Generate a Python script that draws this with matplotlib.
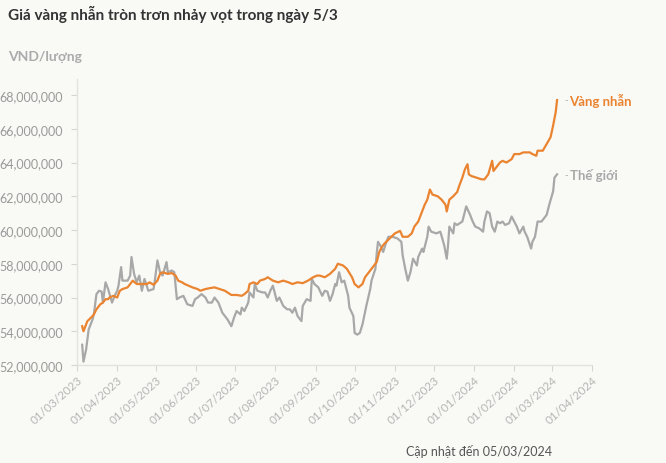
import matplotlib
matplotlib.use("Agg")
import matplotlib.pyplot as plt
import matplotlib.dates as mdates
from matplotlib.ticker import FuncFormatter
import pandas as pd

plt.rcParams['font.family'] = ['Lato', 'DejaVu Sans']

# Vang nhan (million VND / luong)
ring_dates = ["2023-03-05", "2023-03-06", "2023-03-09", "2023-03-13", "2023-03-14", "2023-03-16",
              "2023-03-19", "2023-03-21", "2023-03-23", "2023-03-25", "2023-03-26", "2023-03-29",
              "2023-04-01", "2023-04-03", "2023-04-05", "2023-04-09", "2023-04-12", "2023-04-13",
              "2023-04-16", "2023-04-20", "2023-04-24", "2023-04-26", "2023-04-29", "2023-05-02",
              "2023-05-04", "2023-05-06", "2023-05-10", "2023-05-13", "2023-05-16", "2023-05-18",
              "2023-05-21", "2023-05-23", "2023-05-26", "2023-05-29", "2023-06-02", "2023-06-04",
              "2023-06-08", "2023-06-11", "2023-06-15", "2023-06-19", "2023-06-23", "2023-06-25",
              "2023-06-28", "2023-07-02", "2023-07-06", "2023-07-08", "2023-07-11", "2023-07-12",
              "2023-07-15", "2023-07-18", "2023-07-20", "2023-07-24", "2023-07-26", "2023-07-30",
              "2023-08-03", "2023-08-07", "2023-08-11", "2023-08-14", "2023-08-18", "2023-08-22",
              "2023-08-26", "2023-08-30", "2023-09-02", "2023-09-04", "2023-09-08", "2023-09-12",
              "2023-09-16", "2023-09-18", "2023-09-22", "2023-09-25", "2023-09-29", "2023-10-01",
              "2023-10-04", "2023-10-07", "2023-10-09", "2023-10-13", "2023-10-15", "2023-10-18",
              "2023-10-20", "2023-10-22", "2023-10-24", "2023-10-28", "2023-11-01", "2023-11-05",
              "2023-11-07", "2023-11-11", "2023-11-14", "2023-11-16", "2023-11-19", "2023-11-22",
              "2023-11-24", "2023-11-26", "2023-11-28", "2023-11-30", "2023-12-04", "2023-12-07",
              "2023-12-10", "2023-12-11", "2023-12-13", "2023-12-16", "2023-12-19", "2023-12-21",
              "2023-12-23", "2023-12-25", "2023-12-27", "2023-12-28", "2023-12-30", "2024-01-03",
              "2024-01-07", "2024-01-09", "2024-01-12", "2024-01-15", "2024-01-16", "2024-01-19",
              "2024-01-21", "2024-01-23", "2024-01-26", "2024-01-30", "2024-02-01", "2024-02-05",
              "2024-02-08", "2024-02-13", "2024-02-15", "2024-02-18", "2024-02-19", "2024-02-23",
              "2024-02-26", "2024-02-29", "2024-03-02", "2024-03-04", "2024-03-05"]
ring_vals = [54.3, 54.0, 54.6, 54.9, 55.0, 55.3,
             55.6, 55.7, 55.9, 55.9, 56.0, 56.1,
             56.0, 56.4, 56.5, 56.6, 56.9, 57.0,
             56.8, 56.8, 56.8, 56.9, 56.75, 57.0,
             57.4, 57.5, 57.4, 57.45, 57.3, 57.0,
             56.9, 56.8, 56.7, 56.6, 56.5, 56.4,
             56.5, 56.55, 56.6, 56.5, 56.4, 56.3,
             56.15, 56.15, 56.1, 56.2, 56.4, 56.8,
             56.9, 56.8, 57.0, 57.1, 57.2, 57.0,
             56.9, 57.0, 56.9, 56.8, 56.9, 56.85,
             57.0, 57.2, 57.3, 57.3, 57.2, 57.4,
             57.7, 58.0, 57.9, 57.7, 57.2, 56.8,
             56.6, 56.8, 57.2, 57.6, 57.8, 58.1,
             58.7, 59.0, 59.2, 59.5, 59.8, 59.95,
             59.6, 59.6, 59.8, 60.2, 60.5, 61.1,
             61.5, 61.8, 62.4, 62.1, 62.0, 61.8,
             61.5, 61.1, 61.8, 62.0, 62.25, 62.7,
             63.1, 63.6, 63.9, 63.3, 63.2, 63.1,
             63.0, 63.0, 63.3, 64.1, 63.5, 63.8,
             64.0, 64.1, 64.0, 64.2, 64.5, 64.5,
             64.6, 64.6, 64.5, 64.4, 64.7, 64.7,
             65.1, 65.5, 66.2, 67.0, 67.7]

# The gioi (million VND / luong)
world_dates = ["2023-03-05", "2023-03-06", "2023-03-08", "2023-03-10", "2023-03-13", "2023-03-14",
               "2023-03-16", "2023-03-18", "2023-03-20", "2023-03-21", "2023-03-23", "2023-03-25",
               "2023-03-28", "2023-03-30", "2023-04-01", "2023-04-02", "2023-04-04", "2023-04-05",
               "2023-04-09", "2023-04-11", "2023-04-12", "2023-04-14", "2023-04-16", "2023-04-18",
               "2023-04-20", "2023-04-22", "2023-04-25", "2023-04-29", "2023-04-30", "2023-05-02",
               "2023-05-04", "2023-05-06", "2023-05-09", "2023-05-10", "2023-05-13", "2023-05-15",
               "2023-05-17", "2023-05-19", "2023-05-22", "2023-05-25", "2023-05-29", "2023-05-31",
               "2023-06-02", "2023-06-05", "2023-06-08", "2023-06-10", "2023-06-13", "2023-06-15",
               "2023-06-18", "2023-06-21", "2023-06-23", "2023-06-25", "2023-06-28", "2023-06-30",
               "2023-07-02", "2023-07-05", "2023-07-06", "2023-07-08", "2023-07-11", "2023-07-12",
               "2023-07-15", "2023-07-16", "2023-07-18", "2023-07-22", "2023-07-24", "2023-07-26",
               "2023-07-28", "2023-07-30", "2023-08-02", "2023-08-04", "2023-08-07", "2023-08-10",
               "2023-08-12", "2023-08-14", "2023-08-16", "2023-08-18", "2023-08-21", "2023-08-22",
               "2023-08-25", "2023-08-28", "2023-08-29", "2023-08-31", "2023-09-03", "2023-09-06",
               "2023-09-08", "2023-09-10", "2023-09-12", "2023-09-14", "2023-09-16", "2023-09-17",
               "2023-09-19", "2023-09-21", "2023-09-23", "2023-09-26", "2023-09-27", "2023-09-30",
               "2023-10-01", "2023-10-03", "2023-10-05", "2023-10-07", "2023-10-10", "2023-10-13",
               "2023-10-14", "2023-10-17", "2023-10-18", "2023-10-19", "2023-10-21", "2023-10-23",
               "2023-10-25", "2023-10-27", "2023-10-30", "2023-11-03", "2023-11-06", "2023-11-07",
               "2023-11-09", "2023-11-11", "2023-11-13", "2023-11-15", "2023-11-18", "2023-11-19",
               "2023-11-22", "2023-11-23", "2023-11-26", "2023-11-27", "2023-11-29", "2023-12-03",
               "2023-12-06", "2023-12-07", "2023-12-09", "2023-12-11", "2023-12-12", "2023-12-13",
               "2023-12-16", "2023-12-17", "2023-12-19", "2023-12-23", "2023-12-25", "2023-12-26",
               "2023-12-29", "2023-12-31", "2024-01-02", "2024-01-05", "2024-01-08", "2024-01-09",
               "2024-01-11", "2024-01-13", "2024-01-15", "2024-01-17", "2024-01-19", "2024-01-21",
               "2024-01-23", "2024-01-25", "2024-01-28", "2024-01-30", "2024-02-01", "2024-02-03",
               "2024-02-05", "2024-02-08", "2024-02-09", "2024-02-11", "2024-02-14", "2024-02-15",
               "2024-02-17", "2024-02-19", "2024-02-22", "2024-02-25", "2024-02-26", "2024-02-28",
               "2024-03-02", "2024-03-03", "2024-03-05"]
world_vals = [53.2, 52.2, 52.9, 54.1, 54.7, 55.0,
              56.2, 56.4, 56.35, 55.7, 56.9, 56.5,
              55.7, 56.1, 56.4, 56.7, 57.8, 57.0,
              57.0, 57.3, 58.4, 57.4, 56.9, 57.3,
              56.4, 57.1, 56.4, 56.5, 57.0, 58.2,
              57.5, 57.3, 58.1, 57.5, 57.6, 57.5,
              55.9, 56.0, 56.1, 55.6, 55.5, 55.9,
              56.0, 56.2, 56.0, 55.7, 55.7, 56.0,
              55.7, 55.1, 54.9, 54.7, 54.3, 54.8,
              55.2, 55.0, 55.4, 55.2, 55.7, 56.3,
              56.0, 56.8, 56.4, 56.3, 56.3, 56.0,
              56.4, 56.7, 55.8, 56.0, 55.5, 55.3,
              55.3, 55.1, 55.4, 54.9, 54.6, 55.5,
              55.9, 55.8, 57.1, 56.8, 56.6, 56.1,
              56.4, 56.35, 55.8, 56.2, 56.8, 56.7,
              57.5, 56.9, 57.0, 56.1, 55.4, 54.9,
              53.9, 53.8, 53.9, 54.4, 55.5, 56.5,
              57.0, 57.7, 58.6, 59.3, 59.05, 58.7,
              59.2, 59.6, 59.6, 59.5, 59.3, 58.5,
              57.7, 57.0, 57.5, 58.3, 57.9, 58.4,
              58.9, 58.7, 59.6, 60.2, 59.9, 59.8,
              59.9, 59.65, 59.1, 58.3, 59.1, 60.2,
              59.8, 60.4, 60.3, 60.5, 61.1, 61.4,
              60.9, 60.5, 60.2, 60.1, 59.9, 60.5,
              61.1, 61.0, 60.2, 59.9, 60.5, 60.4,
              60.5, 60.3, 60.4, 60.8, 60.5, 60.2,
              59.8, 60.2, 59.9, 59.6, 58.9, 59.3,
              59.6, 60.5, 60.5, 60.8, 60.9, 61.5,
              62.3, 63.1, 63.3]

y_ticks = [52, 54, 56, 58, 60, 62, 64, 66, 68]
month_ticks = pd.date_range("2023-03-01", "2024-04-01", freq="MS")

ORANGE = "#ea8430"
GRAY = "#a8a8a8"
BG = "#f9f9f6"

rd = pd.to_datetime(ring_dates)
wd = pd.to_datetime(world_dates)
rv = [v * 1e6 for v in ring_vals]
wv = [v * 1e6 for v in world_vals]

fig = plt.figure(figsize=(6.66, 4.64), dpi=100, facecolor=BG)
ax = fig.add_axes([0.1156, 0.2112, 0.7734, 0.6164])
ax.set_facecolor(BG)

ax.plot(wd, wv, color=GRAY, lw=1.6, solid_joinstyle="round")
ax.plot(rd, rv, color=ORANGE, lw=1.6, solid_joinstyle="round")

ax.set_ylim(52e6, 68.95e6)
ax.set_xlim(month_ticks[0], month_ticks[-1])
ax.set_yticks([t * 1e6 for t in y_ticks])
ax.yaxis.set_major_formatter(FuncFormatter(lambda v, p: "{:,.0f}".format(v)))
ax.set_xticks(month_ticks)
ax.xaxis.set_major_formatter(mdates.DateFormatter("%d/%m/%Y"))

for s in ["top", "right"]:
    ax.spines[s].set_visible(False)
for s in ["left", "bottom"]:
    ax.spines[s].set_color("#e2e2e0")
    ax.spines[s].set_linewidth(1)

ax.tick_params(axis="y", length=4, width=0.8, color="#d5d5d5", labelcolor="#9a9a9a",
               labelsize=9, pad=6)
ax.tick_params(axis="x", length=4, width=0.8, color="#d5d5d5", labelcolor="#b5b5b5",
               labelsize=8.5, pad=2)
for lab in ax.get_xticklabels():
    lab.set_rotation(42)
    lab.set_ha("right")
    lab.set_rotation_mode("anchor")

# end labels
ax.annotate("-", (rd[-1], rv[-1]), xytext=(5, 0), textcoords="offset points",
            va="center", ha="left", fontsize=7, color="#aaaaaa")
ax.annotate("Vàng nhẫn", (rd[-1], rv[-1]), xytext=(9, 0), textcoords="offset points",
            va="center", ha="left", fontsize=9.5, fontweight="bold", color=ORANGE)
ax.annotate("-", (wd[-1], wv[-1]), xytext=(5, 0), textcoords="offset points",
            va="center", ha="left", fontsize=7, color="#aaaaaa")
ax.annotate("Thế giới", (wd[-1], wv[-1]), xytext=(9, 0), textcoords="offset points",
            va="center", ha="left", fontsize=9.5, fontweight="bold", color=GRAY)

fig.text(0.012, 0.968, "Giá vàng nhẫn tròn trơn nhảy vọt trong ngày 5/3", fontsize=11,
         fontweight="bold", color="#333333", va="center", ha="left")
fig.text(0.012, 0.877, "VND/lượng", fontsize=10, fontweight="bold", color="#ababab",
         va="center", ha="left")
fig.text(0.829, 0.026, "Cập nhật đến 05/03/2024", fontsize=9, color="#555555",
         va="center", ha="right")

fig.savefig("out.png", dpi=100, facecolor=BG)
